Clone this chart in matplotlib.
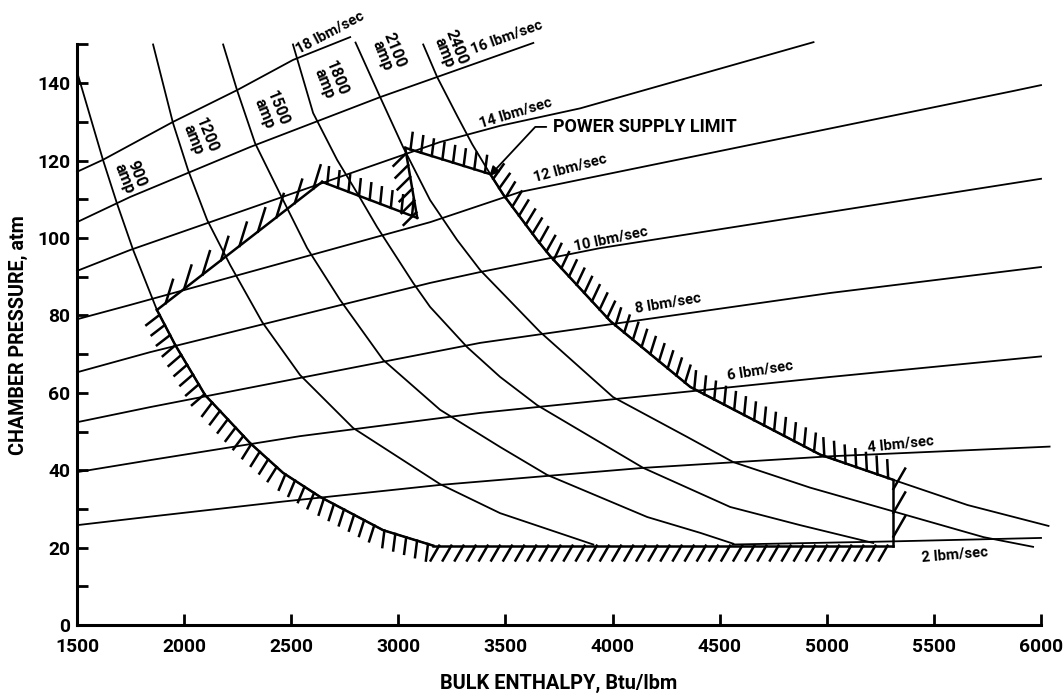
import matplotlib
matplotlib.use("Agg")
import matplotlib.pyplot as plt
import matplotlib.patheffects as pe
import numpy as np

# ---- values (enthalpy in Btu/lbm, pressure in atm) ----

# constant arc current curves
AMP_900_H = [1505, 1621, 1686, 1762, 1873, 1958, 2098, 2308, 2462, 2635, 2929, 3163]
AMP_900_P = [142.0, 120.2, 109.0, 96.9, 81.4, 72.4, 59.4, 47.0, 39.3, 33.1, 24.5, 20.5]
AMP_1200_H = [1855, 1948, 2018, 2107, 2215, 2364, 2541, 2789, 3195, 3475, 3910]
AMP_1200_P = [150.0, 129.7, 117.6, 104.7, 93.0, 78.3, 64.6, 50.9, 36.4, 28.9, 20.8]
AMP_1500_H = [2182, 2247, 2331, 2462, 2574, 2728, 2929, 3195, 3475, 3694, 4162, 4410, 4564]
AMP_1500_P = [150.0, 138.2, 124.5, 109.8, 97.4, 84.0, 68.5, 55.6, 46.0, 38.8, 27.9, 23.8, 21.0]
AMP_1800_H = [2508, 2602, 2714, 2808, 2901, 3069, 3148, 3321, 3475, 3648, 4143, 4549, 4876, 5217]
AMP_1800_P = [150.0, 132.3, 120.2, 111.6, 102.8, 88.4, 82.2, 71.8, 64.1, 56.8, 40.6, 30.5, 25.8, 21.2]
AMP_2100_H = [2800, 2915, 3022, 3148, 3274, 3382, 3662, 4002, 4348, 4563, 4922, 5732, 5963]
AMP_2100_P = [150.5, 136.4, 123.5, 109.8, 99.5, 91.7, 75.7, 58.9, 48.6, 42.1, 35.5, 22.7, 20.2]
AMP_2400_H = [3116, 3181, 3275, 3345, 3429, 3490, 3648, 3709, 3990, 4363, 4970, 5311, 5657, 6035]
AMP_2400_P = [150.0, 141.6, 131.5, 124.2, 116.5, 111.2, 99.5, 95.3, 78.5, 61.5, 44.0, 37.5, 31.0, 25.6]
AMP_LABELS = ["900", "1200", "1500", "1800", "2100", "2400"]

# constant mass flow lines
FLOW_2_H = [4560, 5300, 6000]
FLOW_2_P = [20.8, 21.6, 22.5]
FLOW_4_H = [1500, 1841, 2462, 3195, 4143, 5017, 6040]
FLOW_4_P = [25.8, 28.0, 31.9, 36.2, 40.6, 43.6, 46.1]
FLOW_6_H = [1500, 1841, 2541, 3382, 5017, 6000]
FLOW_6_P = [39.5, 42.6, 48.8, 54.8, 64.1, 69.4]
FLOW_8_H = [1500, 1841, 3382, 5017, 6000]
FLOW_8_P = [52.4, 56.3, 72.9, 85.8, 92.5]
FLOW_10_H = [1500, 1841, 3149, 3382, 3943, 6000]
FLOW_10_P = [65.3, 70.5, 88.4, 91.2, 97.4, 115.3]
FLOW_12_H = [1500, 1748, 3149, 3569, 5872, 6000]
FLOW_12_P = [79.0, 82.7, 104.1, 111.9, 138.0, 139.5]
FLOW_14_H = [1500, 1748, 3195, 3476, 3849, 4938]
FLOW_14_P = [91.5, 96.9, 124.8, 129.0, 133.5, 150.6]
FLOW_16_H = [1500, 1748, 2308, 2915, 3181, 3630]
FLOW_16_P = [104.1, 110.6, 123.5, 136.4, 141.6, 150.4]
FLOW_18_H = [1500, 1621, 1948, 2247, 2508, 2775]
FLOW_18_P = [117.1, 120.2, 130.0, 138.2, 146.0, 151.9]
FLOW_LABELS = ["2", "4", "6", "8", "10", "12", "14", "16", "18"]

# operating envelope corners (upper left side and the power supply limit)
ENV_TOP_H = [1873, 2644, 3088, 3032, 3429]
ENV_TOP_P = [81.4, 114.5, 105.2, 123.3, 116.5]
ENV_RIGHT_H = 5311     # vertical right edge
ENV_BOTTOM_P = 20.5    # minimum pressure line


def hatched(ax, h, p, spacing, angle, length, lw=1.8):
    """Boundary line with short ticks on its left side (walking along the path)."""
    ax.plot(h, p, color="black", lw=lw, solid_joinstyle="miter", clip_on=False,
            path_effects=[pe.withTickedStroke(spacing=spacing, angle=angle,
                                              length=length, linewidth=lw)])


plt.rcParams["font.family"] = ["Roboto", "DejaVu Sans"]

fig = plt.figure(figsize=(10.64, 6.95), dpi=100)
ax = fig.add_axes([0.0724, 0.1007, 0.906, 0.8353])
renderer = fig.canvas.get_renderer()


def fit_size(s, target_px, weight="bold"):
    """Font size that gives string s about the width it has in the original."""
    t = fig.text(0, 0, s, fontsize=20, fontweight=weight)
    w = t.get_window_extent(renderer).width
    t.remove()
    return 20 * target_px / w


# the original lettering is condensed, so sizes run a little above a pure width fit
TICK_FS = fit_size("1500", 40) * 1.1
XLAB_FS = fit_size("BULK ENTHALPY, Btu/lbm", 212) * 1.12
YLAB_FS = fit_size("CHAMBER PRESSURE, atm", 215) * 1.12
PSL_FS = fit_size("POWER SUPPLY LIMIT", 165) * 1.12
FLOW_FS = fit_size("10 lbm/sec", 68) * 1.1
AMP_FS = fit_size("1200", 33) * 1.1

line_kw = dict(color="black", lw=1.3, clip_on=False)

flows = [(FLOW_2_H, FLOW_2_P), (FLOW_4_H, FLOW_4_P), (FLOW_6_H, FLOW_6_P),
         (FLOW_8_H, FLOW_8_P), (FLOW_10_H, FLOW_10_P), (FLOW_12_H, FLOW_12_P),
         (FLOW_14_H, FLOW_14_P), (FLOW_16_H, FLOW_16_P), (FLOW_18_H, FLOW_18_P)]
amps = [(AMP_900_H, AMP_900_P), (AMP_1200_H, AMP_1200_P), (AMP_1500_H, AMP_1500_P),
        (AMP_1800_H, AMP_1800_P), (AMP_2100_H, AMP_2100_P), (AMP_2400_H, AMP_2400_P)]

for h, p in flows + amps:
    ax.plot(h, p, **line_kw)

# envelope, piece by piece so each side gets its own hatch direction
th, tp = ENV_TOP_H, ENV_TOP_P
hatched(ax, th[0:2], tp[0:2], spacing=16, angle=35, length=1.1)
hatched(ax, th[1:3], tp[1:3], spacing=8, angle=105, length=1.5)
hatched(ax, th[2:4], tp[2:4], spacing=8, angle=125, length=1.6)
hatched(ax, th[3:5], tp[3:5], spacing=8, angle=100, length=1.5)

h24 = np.array(AMP_2400_H)
p24 = np.array(AMP_2400_P)
keep = (h24 >= th[-1]) & (h24 <= ENV_RIGHT_H)
hatched(ax, h24[keep], p24[keep], spacing=8, angle=112, length=1.6)
top_right = p24[h24 == ENV_RIGHT_H][0]
hatched(ax, [ENV_RIGHT_H, ENV_RIGHT_H], [top_right, ENV_BOTTOM_P],
        spacing=13, angle=150, length=1.3)
hatched(ax, [ENV_RIGHT_H, AMP_900_H[-1]], [ENV_BOTTOM_P, ENV_BOTTOM_P],
        spacing=8.5, angle=60, length=1.45)
h9 = np.array(AMP_900_H)[::-1]
p9 = np.array(AMP_900_P)[::-1]
keep = h9 >= th[0]
hatched(ax, h9[keep], p9[keep], spacing=8, angle=100, length=1.5)

# curve labels
amp_pos = [(1750, 116), (2074, 126), (2406, 132.8), (2682, 140.6), (2953, 147.8), (3242, 148.6)]
for lab, (x, y) in zip(AMP_LABELS, amp_pos):
    ax.text(x, y, f"{lab}\namp", rotation=-68, ha="center", va="center",
            multialignment="center", linespacing=0.9, fontsize=AMP_FS,
            fontweight="bold")

flow_pos = [(5596, 18.1, 5), (5344, 46.8, 6), (4690, 65.9, 9), (4260, 83.2, 9.5),
            (3994, 99.7, 12), (3803, 118.1, 15), (3546, 132.3, 17), (3508, 151.9, 20),
            (2682, 153.2, 28)]
for lab, (x, y, r) in zip(FLOW_LABELS, flow_pos):
    ax.text(x, y, f"{lab} lbm/sec", rotation=r, ha="center", va="center",
            rotation_mode="anchor", fontsize=FLOW_FS, fontweight="bold")

ax.annotate("POWER SUPPLY LIMIT", xy=(3425, 116), xytext=(3723, 128.7),
            ha="left", va="center", fontsize=PSL_FS, fontweight="bold",
            arrowprops=dict(arrowstyle="-|>", color="black", lw=1.3,
                            mutation_scale=14, shrinkA=3, shrinkB=0,
                            connectionstyle="angle,angleA=0,angleB=47,rad=0"))

# axes styling
ax.set_xlim(1500, 6000)
ax.set_ylim(0, 150)
ax.set_xticks(np.arange(1500, 6001, 500))
ax.set_yticks(np.arange(0, 141, 20))
ax.set_yticks(np.arange(10, 151, 20), minor=True)
for side in ("top", "right"):
    ax.spines[side].set_visible(False)
for side in ("left", "bottom"):
    ax.spines[side].set_linewidth(2.2)
ax.tick_params(which="both", direction="in", length=8, width=2)
ax.tick_params(axis="x", pad=9, labelsize=TICK_FS)
ax.tick_params(axis="y", pad=5, labelsize=TICK_FS)
for lab in ax.get_xticklabels() + ax.get_yticklabels():
    lab.set_fontweight("bold")

ax.set_xlabel("BULK ENTHALPY, Btu/lbm", fontsize=XLAB_FS, fontweight="bold")
ax.set_ylabel("CHAMBER PRESSURE, atm", fontsize=YLAB_FS, fontweight="bold")
ax.xaxis.set_label_coords(0.5, -0.084)
ax.yaxis.set_label_coords(-0.051, 0.5)

fig.savefig("out.png", dpi=100)
